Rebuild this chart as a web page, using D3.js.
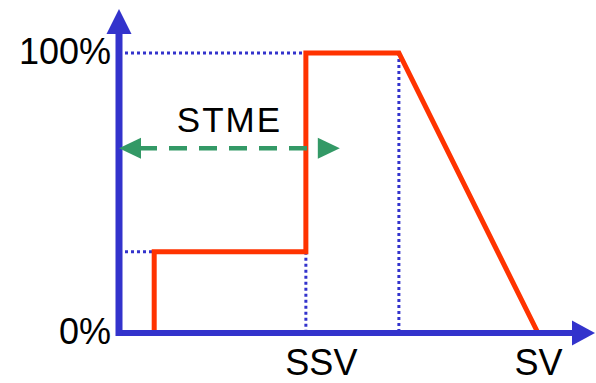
<!DOCTYPE html>
<html>
<head>
<meta charset="utf-8">
<script src="https://cdn.jsdelivr.net/npm/d3@7"></script>
<style>
  body { margin: 0; background: #fff; }
  svg { display: block; font-family: "Liberation Sans", Arial, sans-serif; }
</style>
</head>
<body>
<div id="chart"></div>
<script>
// data (x in % of SV, y in % level)
var curveX = [8.4, 8.4, 44.6, 44.6, 66.8, 100];
var curveY = [0, 29, 29, 100, 100, 0];
var yTickValues = [0, 100];
var yTickLabels = ["0%", "100%"];
var xTickValues = [44.6, 100];
var xTickLabels = ["SSV", "SV"];
var stmeLabel = "STME";
var stmeRange = [0, 52.7];
var stmeLevel = 66;

var W = 596, H = 383;
var blue = "#3333cc", red = "#ff3300", green = "#339966";

// 设置尺度
var x = d3.scaleLinear().domain([0, 100]).range([119, 538]);
var y = d3.scaleLinear().domain([0, 100]).range([333, 53]);

var svg = d3.select("#chart").append("svg")
    .attr("width", W)
    .attr("height", H);

// 虚线参考线
var guides = svg.append("g")
    .style("stroke", blue)
    .style("stroke-width", 3)
    .style("stroke-dasharray", "3,3")
    .style("fill", "none");

// horizontal guides from y axis to the curve
guides.append("line")
    .attr("x1", x(0)).attr("x2", x(curveX[1]))
    .attr("y1", y(curveY[1])).attr("y2", y(curveY[1]));
guides.append("line")
    .attr("x1", x(0)).attr("x2", x(curveX[4]))
    .attr("y1", y(curveY[4])).attr("y2", y(curveY[4]));
// vertical guides down to x axis
guides.append("line")
    .attr("x1", x(curveX[2])).attr("x2", x(curveX[2]))
    .attr("y1", y(curveY[2])).attr("y2", y(0));
guides.append("line")
    .attr("x1", x(curveX[4])).attr("x2", x(curveX[4]))
    .attr("y1", y(curveY[4])).attr("y2", y(0));

// 红色曲线
var pts = curveX.map(function (d, i) { return [d, curveY[i]]; });
var line = d3.line()
    .x(function (d) { return x(d[0]); })
    .y(function (d) { return y(d[1]); });

svg.append("path")
    .datum(pts)
    .attr("d", line)
    .style("fill", "none")
    .style("stroke", red)
    .style("stroke-width", 5)
    .style("stroke-linejoin", "miter");

// 坐标轴线 + 箭头
var x0 = x(0), y0 = y(0);
var xEnd = x(113.6), yEnd = y(115.7);

svg.append("line")
    .attr("x1", x0).attr("x2", xEnd - 20)
    .attr("y1", y0).attr("y2", y0)
    .style("stroke", blue).style("stroke-width", 6);
svg.append("path")
    .attr("d", "M" + xEnd + "," + y0 + "L" + (xEnd - 23) + "," + (y0 - 12.5) + "L" + (xEnd - 23) + "," + (y0 + 12.5) + "Z")
    .style("fill", blue);

svg.append("line")
    .attr("x1", x0).attr("x2", x0)
    .attr("y1", y0 + 3).attr("y2", yEnd + 20)
    .style("stroke", blue).style("stroke-width", 7);
svg.append("path")
    .attr("d", "M" + x0 + "," + yEnd + "L" + (x0 - 12.5) + "," + (yEnd + 25) + "L" + (x0 + 12.5) + "," + (yEnd + 25) + "Z")
    .style("fill", blue);

// 刻度标签
var yAxis = svg.append("g")
    .attr("transform", "translate(" + x0 + ",0)")
    .call(d3.axisLeft(y)
        .tickValues(yTickValues)
        .tickSize(0)
        .tickPadding(8)
        .tickFormat(function (d, i) { return yTickLabels[i]; }));
yAxis.select(".domain").remove();
yAxis.selectAll("text")
    .attr("dy", "0.28em")
    .style("font-family", "'Liberation Sans', Arial, sans-serif")
    .style("font-size", "36px")
    .style("fill", "#000");

var xAxis = svg.append("g")
    .attr("transform", "translate(0," + y0 + ")")
    .call(d3.axisBottom(x)
        .tickValues(xTickValues)
        .tickSize(0)
        .tickPadding(16)
        .tickFormat(function (d, i) { return xTickLabels[i]; }));
xAxis.select(".domain").remove();
xAxis.selectAll("text")
    .attr("dx", function (d, i) { return i === 0 ? 15 : 0; })
    .style("font-family", "'Liberation Sans', Arial, sans-serif")
    .style("font-size", "36px")
    .style("fill", "#000");

// STME 双向箭头
var ay = y(stmeLevel);
var ax1 = x(stmeRange[0]), ax2 = x(stmeRange[1]);
svg.append("line")
    .attr("x1", ax1 + 20).attr("x2", ax2 - 20)
    .attr("y1", ay).attr("y2", ay)
    .style("stroke", green)
    .style("stroke-width", 4.5)
    .style("stroke-dasharray", "18,12");
svg.append("path")
    .attr("d", "M" + ax1 + "," + ay + "L" + (ax1 + 22) + "," + (ay - 10.5) + "L" + (ax1 + 22) + "," + (ay + 10.5) + "Z")
    .style("fill", green);
svg.append("path")
    .attr("d", "M" + ax2 + "," + ay + "L" + (ax2 - 22) + "," + (ay - 10.5) + "L" + (ax2 - 22) + "," + (ay + 10.5) + "Z")
    .style("fill", green);

svg.append("text")
    .attr("x", (ax1 + ax2) / 2)
    .attr("y", ay - 16)
    .attr("text-anchor", "middle")
    .style("font-size", "35px")
    .style("letter-spacing", "2px")
    .style("fill", "#000")
    .text(stmeLabel);
</script>
</body>
</html>
